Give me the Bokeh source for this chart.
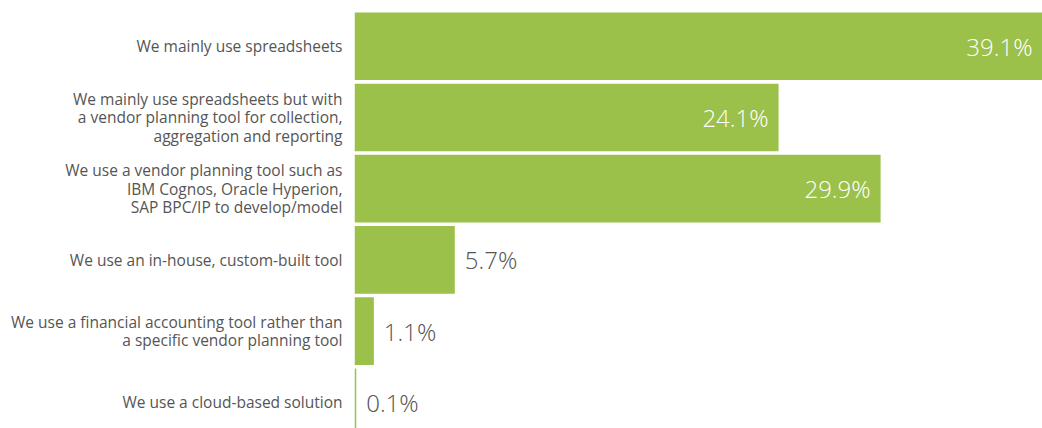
from bokeh.plotting import figure
from bokeh.models import Range1d, FixedTicker, ColumnDataSource
from bokeh.core.properties import value
from bokeh.embed import file_html
from bokeh.resources import INLINE

categories = [
    "We mainly use spreadsheets",
    "We mainly use spreadsheets but with\na vendor planning tool for collection,\naggregation and reporting",
    "We use a vendor planning tool such as\nIBM Cognos, Oracle Hyperion,\nSAP BPC/IP to develop/model",
    "We use an in-house, custom-built tool",
    "We use a financial accounting tool rather than\na specific vendor planning tool",
    "We use a cloud-based solution",
]
values = [39.1, 24.1, 29.9, 5.7, 1.1, 0.1]
value_labels = ["39.1%", "24.1%", "29.9%", "5.7%", "1.1%", "0.1%"]

GREEN = "#9bc14b"
GRAY = "#555555"
FONT = "Open Sans"
VFONT = "Open Sans Light, Open Sans"

idx = list(range(len(categories)))

p = figure(width=1042, height=428, output_backend="svg", toolbar_location=None,
           x_range=Range1d(0, 39.1), y_range=Range1d(5.368, -0.643),
           min_border_left=354, min_border_right=0, min_border_top=0, min_border_bottom=0)
p.outline_line_color = None
p.background_fill_color = "white"
p.border_fill_color = "white"
p.xgrid.visible = False
p.ygrid.visible = False
p.xaxis.visible = False

src = ColumnDataSource(dict(y=idx, right=values))
p.hbar(y="y", left=0, right="right", height=0.95, source=src,
       fill_color=GREEN, line_color=None)

inside = [i for i, v in enumerate(values) if v > 10]
outside = [i for i, v in enumerate(values) if v <= 10]

src_in = ColumnDataSource(dict(x=[values[i] for i in inside], y=[idx[i] for i in inside],
                               t=[value_labels[i] for i in inside]))
src_out = ColumnDataSource(dict(x=[values[i] for i in outside], y=[idx[i] for i in outside],
                                t=[value_labels[i] for i in outside]))

p.text(x="x", y="y", text="t", source=src_in, x_offset=-10, text_align="right",
       text_baseline="middle", text_color="white", text_font=value(VFONT),
       text_font_size="24px")
p.text(x="x", y="y", text="t", source=src_out, x_offset=10, text_align="left",
       text_baseline="middle", text_color=GRAY, text_font=value(VFONT),
       text_font_size="24px")

ax = p.yaxis[0]
ax.ticker = FixedTicker(ticks=idx)
ax.major_label_overrides = {i: c for i, c in zip(idx, categories)}
ax.axis_line_color = None
ax.major_tick_line_color = None
ax.minor_tick_line_color = None
ax.major_tick_out = 0
ax.major_tick_in = 0
ax.major_label_standoff = 12
ax.major_label_text_font = FONT
ax.major_label_text_font_size = "15.5px"
ax.major_label_text_line_height = 0.85
ax.major_label_text_color = GRAY
ax.major_label_text_align = "right"

open("out.html", "w").write(file_html(p, INLINE))
